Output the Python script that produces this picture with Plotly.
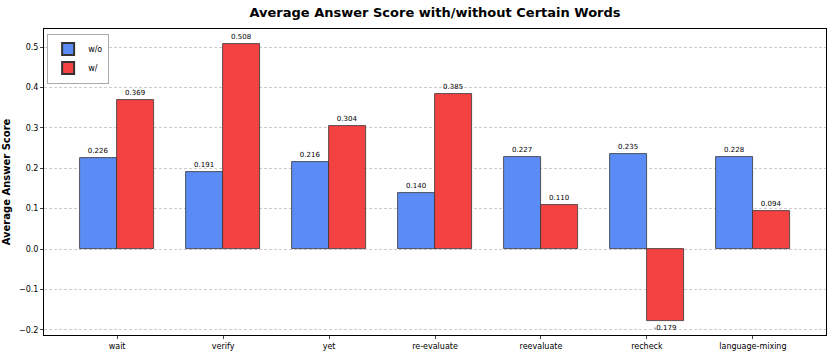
import plotly.graph_objects as go

categories = ["wait", "verify", "yet", "re-evaluate", "reevaluate", "recheck", "language-mixing"]
without_vals = [0.226, 0.191, 0.216, 0.140, 0.227, 0.235, 0.228]
with_vals = [0.369, 0.508, 0.304, 0.385, 0.110, -0.179, 0.094]
series_names = ["w/o", "w/"]
colors = ["#5B8CF5", "#F44242"]

x = list(range(len(categories)))
w = 0.35
fig = go.Figure()
for i, (name, vals, col) in enumerate(zip(series_names, [without_vals, with_vals], colors)):
    off = -w / 2 if i == 0 else w / 2
    fig.add_trace(go.Bar(
        x=[v + off for v in x], y=vals, width=w, name=name,
        marker=dict(color=col, line=dict(color="#333333", width=0.8)),
        text=[f"{v:.3f}" for v in vals], textposition="outside",
        textfont=dict(size=7, color="black", family="DejaVu Sans"),
        cliponaxis=False,
    ))

fig.update_layout(
    width=840, height=359,
    margin=dict(l=44, r=14, t=29, b=24, autoexpand=False),
    plot_bgcolor="white", paper_bgcolor="white",
    font=dict(family="DejaVu Sans", color="black"),
    title=dict(text="<b>Average Answer Score with/without Certain Words</b>", x=0.5, xanchor="center",
               xref="paper", y=1 - 12 / 359, yref="container", yanchor="middle", font=dict(size=13)),
    barmode="overlay", bargap=0,
    showlegend=True,
    legend=dict(x=0.004, y=0.985, xanchor="left", yanchor="top", bgcolor="white",
                bordercolor="#AAAAAA", borderwidth=1, font=dict(size=8),
                itemwidth=30, tracegroupgap=0, itemsizing="constant"),
    uniformtext=dict(minsize=6, mode="show"),
)
fig.update_xaxes(tickmode="array", tickvals=x, ticktext=categories, range=[-0.69, 6.69],
                 showgrid=False, showline=True, linecolor="black", linewidth=1, mirror=True,
                 ticks="outside", ticklen=3, tickfont=dict(size=8), zeroline=False, automargin=False)
fig.update_yaxes(range=[-0.213, 0.545], dtick=0.1, tickformat=".1f",
                 showgrid=True, gridcolor="#CCCCCC", griddash="3px,2px", gridwidth=0.6,
                 showline=True, linecolor="black", linewidth=1, mirror=True,
                 ticks="outside", ticklen=3, tickfont=dict(size=8), zeroline=False, automargin=False,
                 title=dict(text="<b>Average Answer Score</b>", font=dict(size=10), standoff=6))
fig.write_html("out.html", config={"displayModeBar": False},
               post_script="document.body.style.margin='0';")
